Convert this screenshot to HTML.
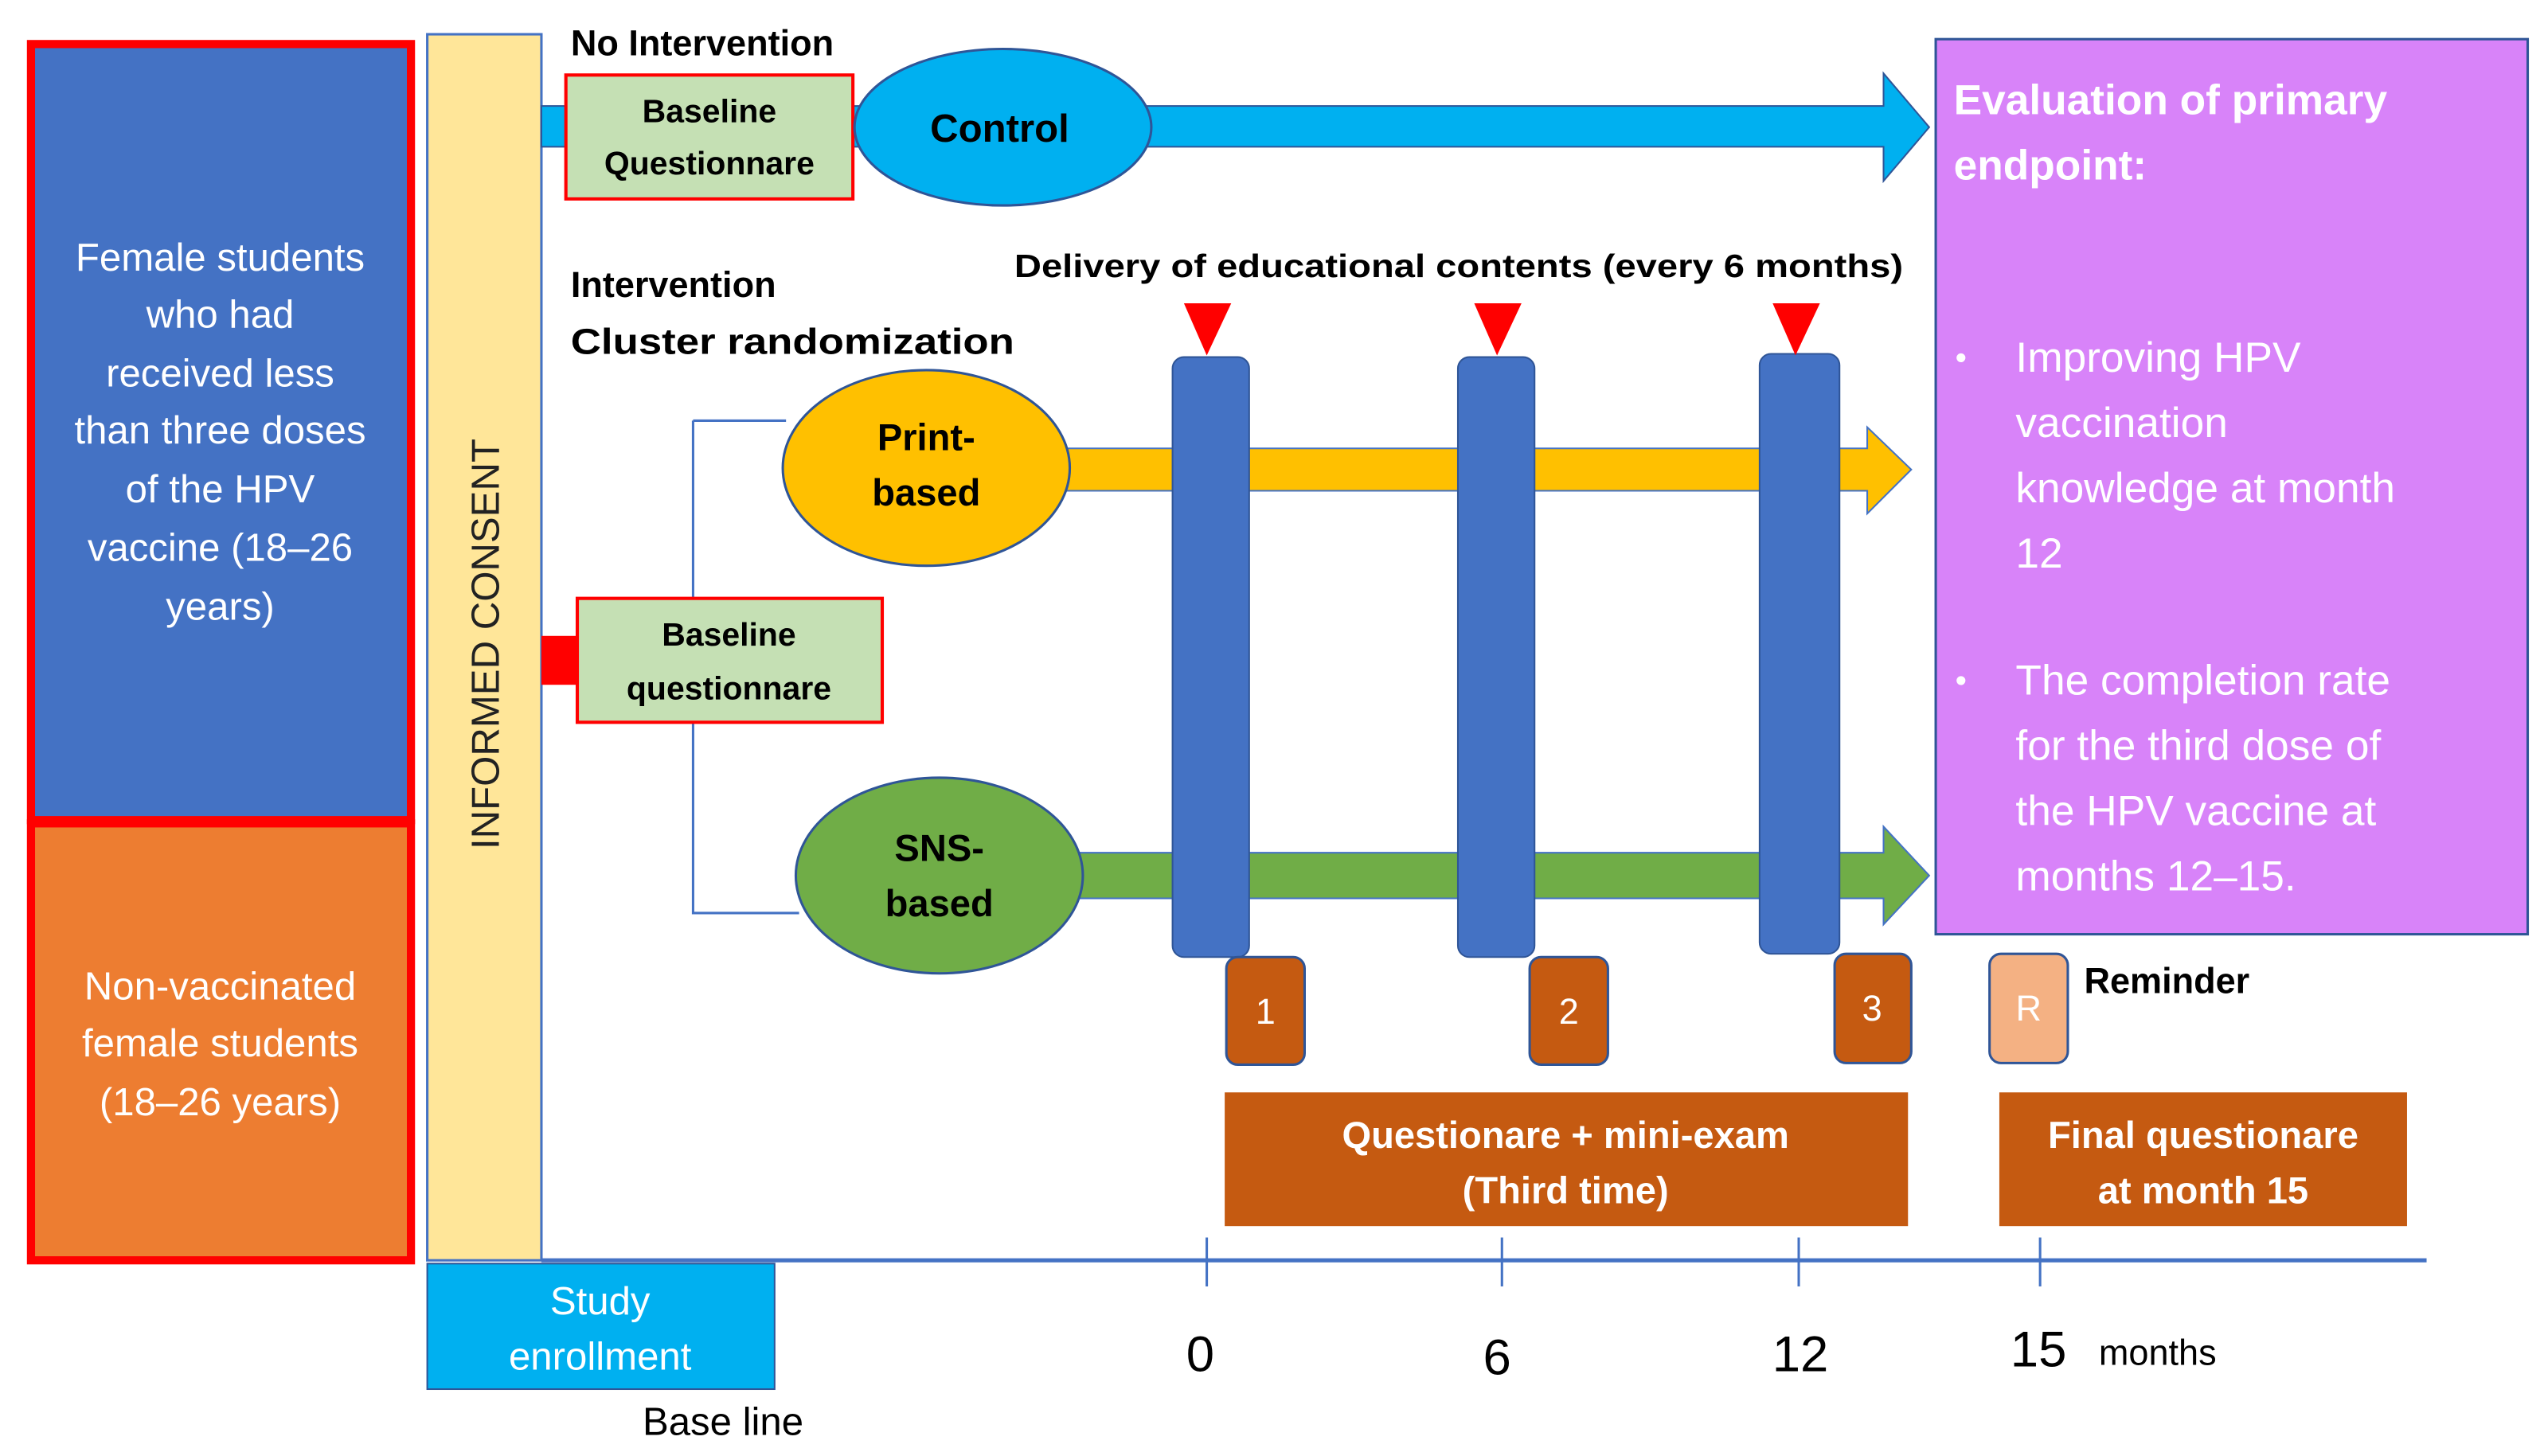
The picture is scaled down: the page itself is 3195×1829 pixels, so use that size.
<!DOCTYPE html>
<html><head><meta charset="utf-8"><style>
html,body{margin:0;padding:0;background:#fff;}
svg{display:block;}
text{font-family:"Liberation Sans",sans-serif;}
</style></head><body>
<svg width="3195" height="1829" viewBox="0 0 1560 893" xmlns="http://www.w3.org/2000/svg">
<rect x="19" y="27" width="233" height="476" fill="#4472C4" stroke="#FF0000" stroke-width="5"/>
<rect x="19" y="505" width="233" height="268" fill="#ED7D31" stroke="#FF0000" stroke-width="5"/>
<g fill="#fff" font-size="24" text-anchor="middle">
<text x="135" y="166">Female students</text>
<text x="135" y="201">who had</text>
<text x="135" y="237">received less</text>
<text x="135" y="272">than three doses</text>
<text x="135" y="308">of the HPV</text>
<text x="135" y="344">vaccine (18–26</text>
<text x="135" y="380">years)</text>
<text x="135" y="613">Non-vaccinated</text>
<text x="135" y="648">female students</text>
<text x="135" y="684">(18–26 years)</text>
</g>
<rect x="262" y="21" width="70" height="752" fill="#FFE699" stroke="#4472C4" stroke-width="1.5"/>
<text transform="translate(306,395) rotate(-90)" font-size="24" text-anchor="middle" fill="#222">INFORMED CONSENT</text>
<path d="M332 65 H1155 V45 L1183 78 L1155 111 V90 H332 Z" fill="#00B0F0" stroke="#2F5597" stroke-width="1"/>
<text x="350" y="34" font-size="22" font-weight="bold">No Intervention</text>
<rect x="347" y="46" width="176" height="76" fill="#C5E0B4" stroke="#FF0000" stroke-width="2"/>
<text x="435" y="75" font-size="20" font-weight="bold" text-anchor="middle">Baseline</text>
<text x="435" y="107" font-size="20" font-weight="bold" text-anchor="middle">Questionnare</text>
<ellipse cx="615" cy="78" rx="91" ry="48" fill="#00B0F0" stroke="#2F5597" stroke-width="1.5"/>
<text x="613" y="87" font-size="24" font-weight="bold" text-anchor="middle">Control</text>
<text x="350" y="182" font-size="22" font-weight="bold">Intervention</text>
<text x="350" y="217" font-size="22" font-weight="bold" textLength="272" lengthAdjust="spacingAndGlyphs">Cluster randomization</text>
<text x="622" y="170" font-size="20" font-weight="bold" textLength="545" lengthAdjust="spacingAndGlyphs">Delivery of educational contents (every 6 months)</text>
<path d="M425 258 H482 M425 258 V560 H490" fill="none" stroke="#4472C4" stroke-width="1.5"/>
<path d="M650 275 H1145 V262 L1172 288 L1145 315 V301 H650 Z" fill="#FFC000" stroke="#4472C4" stroke-width="1"/>
<path d="M660 523 H1155 V507 L1183 537 L1155 567 V551 H660 Z" fill="#70AD47" stroke="#4472C4" stroke-width="1"/>
<ellipse cx="568" cy="287" rx="88" ry="60" fill="#FFC000" stroke="#2F5597" stroke-width="1.5"/>
<text x="568" y="276" font-size="23" font-weight="bold" text-anchor="middle">Print-</text>
<text x="568" y="310" font-size="23" font-weight="bold" text-anchor="middle">based</text>
<ellipse cx="576" cy="537" rx="88" ry="60" fill="#70AD47" stroke="#2F5597" stroke-width="1.5"/>
<text x="576" y="528" font-size="23" font-weight="bold" text-anchor="middle">SNS-</text>
<text x="576" y="562" font-size="23" font-weight="bold" text-anchor="middle">based</text>
<rect x="332" y="390" width="22" height="30" fill="#FF0000"/>
<rect x="354" y="367" width="187" height="76" fill="#C5E0B4" stroke="#FF0000" stroke-width="2"/>
<text x="447" y="396" font-size="20" font-weight="bold" text-anchor="middle">Baseline</text>
<text x="447" y="429" font-size="20" font-weight="bold" text-anchor="middle">questionnare</text>
<rect x="719" y="219" width="47" height="368" rx="7" fill="#4472C4" stroke="#2F5597"/>
<rect x="894" y="219" width="47" height="368" rx="7" fill="#4472C4" stroke="#2F5597"/>
<rect x="1079" y="217" width="49" height="368" rx="7" fill="#4472C4" stroke="#2F5597"/>
<g fill="#FF0000">
<path d="M726 186 H755 L740 218 Z"/><path d="M904 186 H933 L918 218 Z"/><path d="M1087 186 H1116 L1101 218 Z"/>
</g>
<g stroke="#2F5597" stroke-width="1.5">
<rect x="752" y="587" width="48" height="66" rx="7" fill="#C55A11"/>
<rect x="938" y="587" width="48" height="66" rx="7" fill="#C55A11"/>
<rect x="1125" y="585" width="47" height="67" rx="7" fill="#C55A11"/>
<rect x="1220" y="585" width="48" height="67" rx="7" fill="#F4B183"/>
</g>
<g fill="#fff" font-size="22" text-anchor="middle">
<text x="776" y="628">1</text><text x="962" y="628">2</text><text x="1148" y="626">3</text><text x="1244" y="626">R</text>
</g>
<text x="1278" y="609" font-size="22" font-weight="bold">Reminder</text>
<rect x="1187" y="24" width="363" height="549" fill="#D883F9" stroke="#2F5597" stroke-width="1.5"/>
<g fill="#fff">
<text x="1198" y="70" font-size="26" font-weight="bold">Evaluation of primary</text>
<text x="1198" y="110" font-size="26" font-weight="bold">endpoint:</text>
<g font-size="26">
<text x="1199" y="226" font-size="20">•</text>
<text x="1236" y="228">Improving HPV</text>
<text x="1236" y="268">vaccination</text>
<text x="1236" y="308">knowledge at month</text>
<text x="1236" y="348">12</text>
<text x="1199" y="424" font-size="20">•</text>
<text x="1236" y="426">The completion rate</text>
<text x="1236" y="466">for the third dose of</text>
<text x="1236" y="506">the HPV vaccine at</text>
<text x="1236" y="546">months 12–15.</text>
</g></g>
<rect x="751" y="670" width="419" height="82" fill="#C55A11"/>
<text x="960" y="704" font-size="23" font-weight="bold" fill="#fff" text-anchor="middle">Questionare + mini-exam</text>
<text x="960" y="738" font-size="23" font-weight="bold" fill="#fff" text-anchor="middle">(Third time)</text>
<rect x="1226" y="670" width="250" height="82" fill="#C55A11"/>
<text x="1351" y="704" font-size="23" font-weight="bold" fill="#fff" text-anchor="middle">Final questionare</text>
<text x="1351" y="738" font-size="23" font-weight="bold" fill="#fff" text-anchor="middle">at month 15</text>
<line x1="332" y1="773" x2="1488" y2="773" stroke="#4472C4" stroke-width="2.5"/>
<g stroke="#4472C4" stroke-width="1.5">
<line x1="740" y1="759" x2="740" y2="789"/><line x1="921" y1="759" x2="921" y2="789"/>
<line x1="1103" y1="759" x2="1103" y2="789"/><line x1="1251" y1="759" x2="1251" y2="789"/>
</g>
<g font-size="31" text-anchor="middle">
<text x="736" y="841">0</text><text x="918" y="843">6</text><text x="1104" y="841">12</text><text x="1250" y="838">15</text>
</g>
<text x="1287" y="837" font-size="22">months</text>
<rect x="262" y="775" width="213" height="77" fill="#00B0F0" stroke="#2F5597" stroke-width="1"/>
<text x="368" y="806" font-size="24" fill="#fff" text-anchor="middle">Study</text>
<text x="368" y="840" font-size="24" fill="#fff" text-anchor="middle">enrollment</text>
<text x="394" y="880" font-size="24">Base line</text>
</svg>
</body></html>
